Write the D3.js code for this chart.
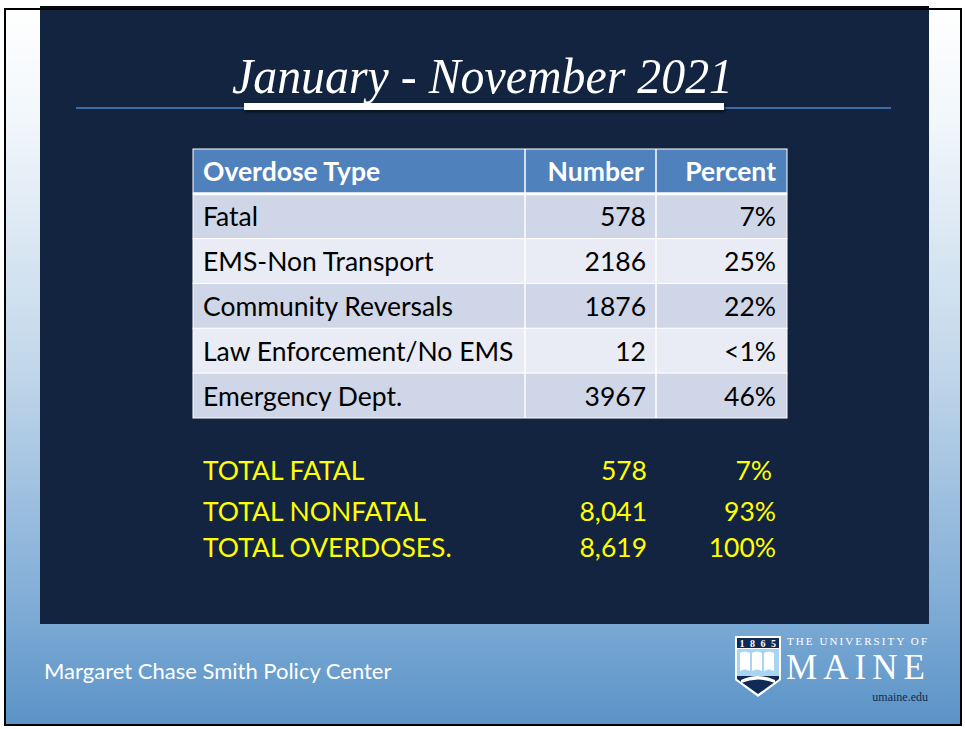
<!DOCTYPE html>
<html>
<head>
<meta charset="utf-8">
<script src="https://cdn.jsdelivr.net/npm/d3@7"></script>
<style>
  html, body { margin: 0; padding: 0; background: #ffffff; }
  svg { display: block; }
</style>
</head>
<body>
<svg id="chart" width="965" height="729"></svg>
<script>
// data
var headers = ["Overdose Type", "Number", "Percent"];
var types = ["Fatal", "EMS-Non Transport", "Community Reversals", "Law Enforcement/No EMS", "Emergency Dept."];
var numbers = [578, 2186, 1876, 12, 3967];
var percents = ["7%", "25%", "22%", "<1%", "46%"];
var totalLabels = ["TOTAL FATAL", "TOTAL NONFATAL", "TOTAL OVERDOSES."];
var totalNumbers = ["578", "8,041", "8,619"];
var totalPercents = ["7%", "93%", "100%"];

var svg = d3.select("#chart");
var sans = "Lato, 'Open Sans', sans-serif";
var serif = "'Liberation Serif', 'DejaVu Serif', serif";

// background gradients
var defs = svg.append("defs");
var bg = defs.append("linearGradient").attr("id", "bg").attr("x1", 0).attr("y1", 0).attr("x2", 0).attr("y2", 1);
[[0, "#ffffff"], [0.15, "#f2f7fb"], [0.5, "#c2d7ea"], [0.82, "#82aed7"], [1, "#5a93c7"]].forEach(function (s) {
    bg.append("stop").attr("offset", s[0]).attr("stop-color", s[1]);
});
var shadow = defs.append("filter").attr("id", "shadow").attr("x", "-5%").attr("y", "-50%").attr("width", "110%").attr("height", "250%");
shadow.append("feDropShadow").attr("dx", 1).attr("dy", 2).attr("stdDeviation", 1.5).attr("flood-color", "#000").attr("flood-opacity", 0.6);

svg.append("rect").attr("x", 5).attr("y", 9).attr("width", 956).attr("height", 716).attr("fill", "url(#bg)");
svg.append("rect").attr("x", 40).attr("y", 6).attr("width", 889).attr("height", 618).attr("fill", "#12243f");
svg.append("line").attr("x1", 40).attr("y1", 7).attr("x2", 929).attr("y2", 7).attr("stroke", "#050b14").attr("stroke-width", 2);
svg.append("rect").attr("x", 5).attr("y", 9).attr("width", 956).attr("height", 716)
    .attr("fill", "none").attr("stroke", "#000").attr("stroke-width", 2);

// title (condensed serif italic)
svg.append("text").text("January - November 2021")
    .attr("x", 232).attr("y", 93)
    .attr("textLength", 501).attr("lengthAdjust", "spacingAndGlyphs")
    .attr("font-family", serif).attr("font-style", "italic").attr("font-size", 50)
    .attr("fill", "#ffffff");
svg.append("line").attr("x1", 76).attr("y1", 108).attr("x2", 891).attr("y2", 108)
    .attr("stroke", "#3d6ba5").attr("stroke-width", 2);
svg.append("rect").attr("x", 244).attr("y", 103).attr("width", 480).attr("height", 7)
    .attr("fill", "#ffffff").attr("filter", "url(#shadow)");

// table
var colEdges = [193, 525, 656, 787];
var rowIdx = d3.range(types.length + 1);
var y = d3.scaleBand().domain(rowIdx).range([149, 418]);
var table = svg.append("g");

rowIdx.forEach(function (r) {
    var fill = r === 0 ? "#4f81bd" : (r % 2 === 1 ? "#cfd6e7" : "#e9ecf4");
    table.append("rect").attr("x", colEdges[0]).attr("y", y(r))
        .attr("width", colEdges[3] - colEdges[0]).attr("height", y.bandwidth())
        .attr("fill", fill).attr("stroke", "#ffffff").attr("stroke-width", 1);
});
// column separators
[colEdges[1], colEdges[2]].forEach(function (cx) {
    table.append("line").attr("x1", cx).attr("y1", y(0)).attr("x2", cx).attr("y2", y.range()[1])
        .attr("stroke", "#ffffff").attr("stroke-width", 1.5);
});
// header bottom thick white line
table.append("line").attr("x1", colEdges[0]).attr("y1", y(1)).attr("x2", colEdges[3]).attr("y2", y(1))
    .attr("stroke", "#ffffff").attr("stroke-width", 3);

var textY = function (r) { return y(r) + y.bandwidth() / 2 + 10; };
headers.forEach(function (h, i) {
    table.append("text").text(h)
        .attr("x", i === 0 ? colEdges[0] + 10 : colEdges[i + 1] - (i === 1 ? 12 : 11))
        .attr("y", textY(0))
        .attr("text-anchor", i === 0 ? "start" : "end")
        .attr("font-family", sans).attr("font-weight", "bold").attr("font-size", 26.5)
        .attr("fill", "#ffffff");
});
types.forEach(function (t, i) {
    var r = i + 1;
    var cells = [t, String(numbers[i]), percents[i]];
    cells.forEach(function (c, j) {
        table.append("text").text(c)
            .attr("x", j === 0 ? colEdges[0] + 10 : colEdges[j + 1] - (j === 1 ? 10 : 11))
            .attr("y", textY(r))
            .attr("text-anchor", j === 0 ? "start" : "end")
            .attr("font-family", sans).attr("font-size", 26.5)
            .attr("fill", "#000000");
    });
});

// totals
var ty = d3.scalePoint().domain(totalLabels).range([480, 557]);
totalLabels.forEach(function (l, i) {
    var g = svg.append("g").attr("font-family", sans).attr("font-size", 26.5).attr("fill", "#ffff00");
    g.append("text").text(l).attr("x", 203).attr("y", ty(l) + (i === 1 ? 2 : 0));
    g.append("text").text(totalNumbers[i]).attr("x", 647).attr("y", ty(l) + (i === 1 ? 2 : 0)).attr("text-anchor", "end");
    g.append("text").text(totalPercents[i]).attr("x", i === 0 ? 772 : 776).attr("y", ty(l) + (i === 1 ? 2 : 0)).attr("text-anchor", "end");
});

// footer
svg.append("text").text("Margaret Chase Smith Policy Center")
    .attr("x", 44).attr("y", 679)
    .attr("font-family", sans).attr("font-size", 22).attr("fill", "#ffffff");

// logo
var logo = svg.append("g");
logo.append("path")
    .attr("d", "M735,636 L781,636 L781,680 L758,697 L735,680 Z")
    .attr("fill", "#ffffff");
logo.append("rect").attr("x", 737).attr("y", 638).attr("width", 42).attr("height", 10).attr("fill", "#0f2a55");
logo.append("rect").attr("x", 737).attr("y", 649).attr("width", 42).attr("height", 27).attr("fill", "#a9d5f2");
logo.append("path")
    .attr("d", "M737,676 L779,676 L779,679 L758,694 L737,679 Z")
    .attr("fill", "#0f2a55");
// stylised pages
[[740, 750], [752, 762], [764, 774]].forEach(function (p) {
    logo.append("path")
        .attr("d", "M" + p[0] + ",653 Q" + (p[0] + 5) + ",650 " + p[1] + ",653 L" + p[1] + ",671 Q" + (p[0] + 5) + ",668 " + p[0] + ",671 Z")
        .attr("fill", "#ffffff");
});
logo.append("path")
    .attr("d", "M741,680 Q758,672 775,680 L775,683 Q758,676 741,683 Z")
    .attr("fill", "#ffffff");
["1", "8", "6", "5"].forEach(function (d, i) {
    logo.append("text").text(d).attr("x", 742 + i * 10.5).attr("y", 646.5)
        .attr("text-anchor", "middle").attr("font-family", serif).attr("font-weight", "bold")
        .attr("font-size", 10).attr("fill", "#ffffff");
});
logo.append("text").text("THE UNIVERSITY OF")
    .attr("x", 787).attr("y", 645).attr("textLength", 140)
    .attr("font-family", serif).attr("font-size", 11).attr("fill", "#ffffff");
logo.append("text").text("MAINE")
    .attr("x", 786).attr("y", 679).attr("textLength", 139)
    .attr("font-family", serif).attr("font-size", 35).attr("fill", "#ffffff");
logo.append("text").text("umaine.edu")
    .attr("x", 928).attr("y", 701).attr("text-anchor", "end")
    .attr("font-family", serif).attr("font-size", 12).attr("fill", "#14294a");
</script>
</body>
</html>
